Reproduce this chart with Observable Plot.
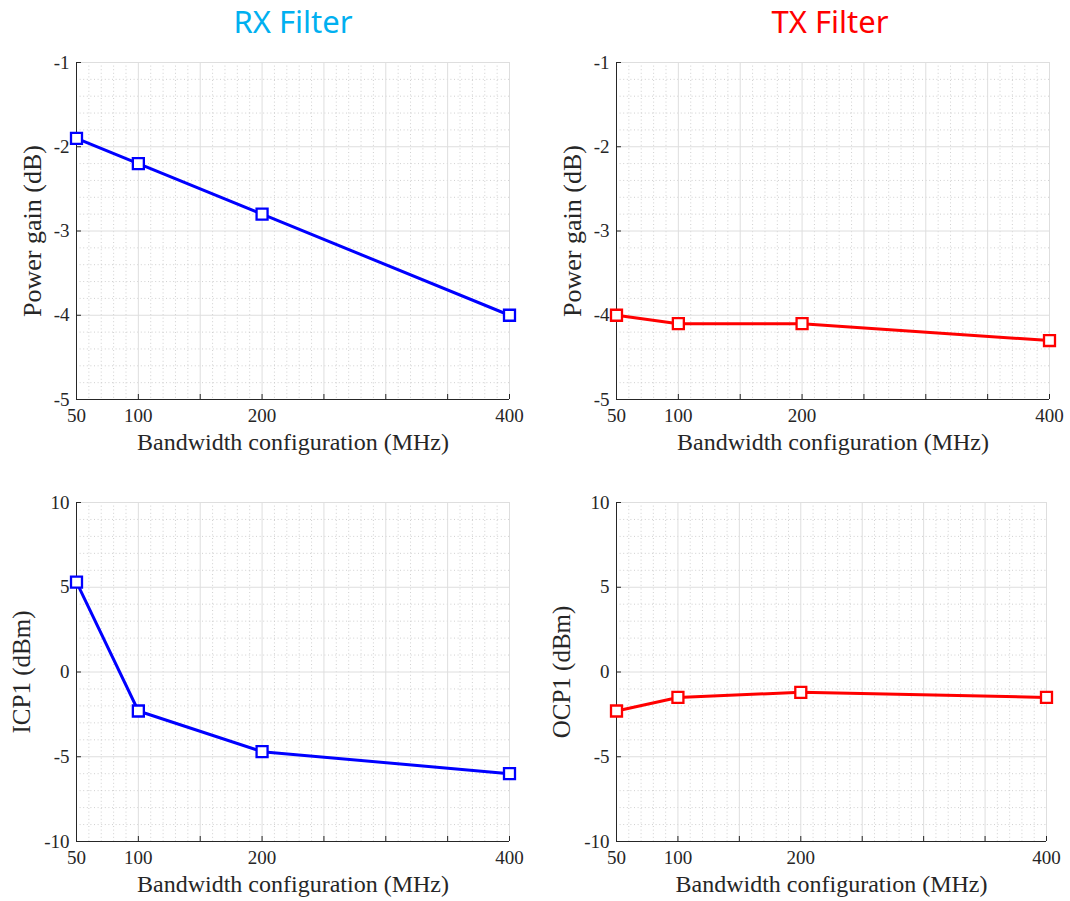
<!DOCTYPE html>
<html>
<head>
<meta charset="utf-8">
<script src="https://cdn.jsdelivr.net/npm/d3@7"></script>
<script src="https://cdn.jsdelivr.net/npm/@observablehq/plot@0.6"></script>
<style>
  html, body { margin: 0; padding: 0; background: #fff; }
  #wrap { position: relative; width: 1070px; height: 901px; overflow: hidden; }
  .title { position: absolute; top: 0px; font-family: "Noto Sans", sans-serif; font-size: 31px; text-align: center; }
  .panel { position: absolute; }
</style>
</head>
<body>
<div id="wrap">
  <div class="title" id="t1" style="left:0; width:586px; color:#00B0F0;">RX Filter</div>
  <div class="title" id="t2" style="left:535px; width:590px; color:#FF0000;">TX Filter</div>
  <div class="panel" id="p1" style="left:0; top:44px;"></div>
  <div class="panel" id="p2" style="left:535px; top:44px;"></div>
  <div class="panel" id="p3" style="left:0; top:482px;"></div>
  <div class="panel" id="p4" style="left:535px; top:482px;"></div>
</div>
<script>
// ---- data ----
const bandwidths = [50, 100, 200, 400];
const rxGain = [-1.9, -2.2, -2.8, -4.0];
const txGain = [-4.0, -4.1, -4.1, -4.3];
const rxICP1 = [5.3, -2.3, -4.7, -6.0];
const txOCP1 = [-2.3, -1.5, -1.2, -1.5];
const xTickLabels = [50, 100, 200, 400];
const gainTicks = [-5, -4, -3, -2, -1];
const cpTicks = [-10, -5, 0, 5, 10];
const xLabel = "Bandwidth configuration (MHz)";

const AX = "#262626";
const serif = "Liberation Serif, Times New Roman, serif";

function panel({values, color, yLabel, yLabelDx, yLabelSize, yTicks, yMinorStep, width, height, marginLeft, marginRight, marginTop, marginBottom}) {
  const data = bandwidths.map((b, i) => ({b, v: values[i]}));
  const xDom = [50, 400];
  const yDom = [yTicks[0], yTicks[yTicks.length - 1]];
  const xMajor = d3.range(50, 401, 50);
  const xMinor = d3.range(50, 401, 10).filter(d => d % 50 !== 0);
  const yMajorStep = yTicks[1] - yTicks[0];
  const nMinor = Math.round((yDom[1] - yDom[0]) / yMinorStep);
  const yMinor = d3.range(0, nMinor + 1).map(i => +(yDom[0] + i * yMinorStep).toFixed(6))
    .filter(d => Math.abs(d / yMajorStep - Math.round(d / yMajorStep)) > 1e-6);
  const fmt = d => String(d);
  return Plot.plot({
    width, height, marginLeft, marginRight, marginTop, marginBottom,
    style: {fontFamily: serif, fontSize: "19px", color: AX, background: "transparent"},
    x: {domain: xDom, axis: null},
    y: {domain: yDom, axis: null},
    marks: [
      Plot.gridX(xMinor, {stroke: "#c4c4c4", strokeOpacity: 1, strokeDasharray: "1,2.6", strokeWidth: 0.8}),
      Plot.gridY(yMinor, {stroke: "#c4c4c4", strokeOpacity: 1, strokeDasharray: "1,2.6", strokeWidth: 0.8}),
      Plot.gridX(xMajor, {stroke: "#dedede", strokeOpacity: 1, strokeWidth: 1}),
      Plot.gridY(yTicks, {stroke: "#dedede", strokeOpacity: 1, strokeWidth: 1}),
      Plot.ruleX([xDom[0]], {stroke: AX, strokeWidth: 1}),
      Plot.ruleY([yDom[0]], {stroke: AX, strokeWidth: 1}),
      // inward tick marks
      Plot.axisX(xMajor, {anchor: "bottom", tickSize: 5, dy: -5, tickFormat: () => "", stroke: AX, label: null}),
      Plot.axisY(yTicks, {anchor: "left", tickSize: 5, dx: 5, tickFormat: () => "", stroke: AX, label: null}),
      // tick labels
      Plot.axisX(xTickLabels, {anchor: "bottom", tickSize: 0, tickPadding: 9, tickFormat: fmt, fill: AX, fontSize: 19, label: null}),
      Plot.axisY(yTicks, {anchor: "left", tickSize: 0, tickPadding: 7, tickFormat: fmt, fill: AX, fontSize: 19, label: null}),
      // axis labels
      Plot.text([xLabel], {frameAnchor: "bottom", text: d => d, dy: 33, lineAnchor: "top", fontSize: 24, fill: AX}),
      Plot.text([yLabel], {frameAnchor: "left", text: d => d, dx: yLabelDx, rotate: -90, textAnchor: "middle", lineAnchor: "top", fontSize: yLabelSize, fill: AX}),
      // series
      Plot.line(data, {x: "b", y: "v", stroke: color, strokeWidth: 3}),
      Plot.dot(data, {x: "b", y: "v", symbol: "square", r: 6.2, stroke: color, strokeWidth: 2.3, fill: "white"})
    ]
  });
}

document.getElementById("p1").append(panel({values: rxGain, color: "#0000FF", yLabel: "Power gain (dB)", yLabelDx: -54, yLabelSize: 26, yTicks: gainTicks, yMinorStep: 0.2,
  width: 535, height: 426, marginLeft: 76, marginRight: 26, marginTop: 18, marginBottom: 71}));
document.getElementById("p2").append(panel({values: txGain, color: "#FF0000", yLabel: "Power gain (dB)", yLabelDx: -54, yLabelSize: 26, yTicks: gainTicks, yMinorStep: 0.2,
  width: 535, height: 426, marginLeft: 81, marginRight: 21, marginTop: 18, marginBottom: 71}));
document.getElementById("p3").append(panel({values: rxICP1, color: "#0000FF", yLabel: "ICP1 (dBm)", yLabelDx: -64, yLabelSize: 25, yTicks: cpTicks, yMinorStep: 1,
  width: 535, height: 419, marginLeft: 76, marginRight: 26, marginTop: 20, marginBottom: 60}));
document.getElementById("p4").append(panel({values: txOCP1, color: "#FF0000", yLabel: "OCP1 (dBm)", yLabelDx: -64, yLabelSize: 25, yTicks: cpTicks, yMinorStep: 1,
  width: 535, height: 419, marginLeft: 81, marginRight: 24, marginTop: 20, marginBottom: 60}));
</script>
</body>
</html>
